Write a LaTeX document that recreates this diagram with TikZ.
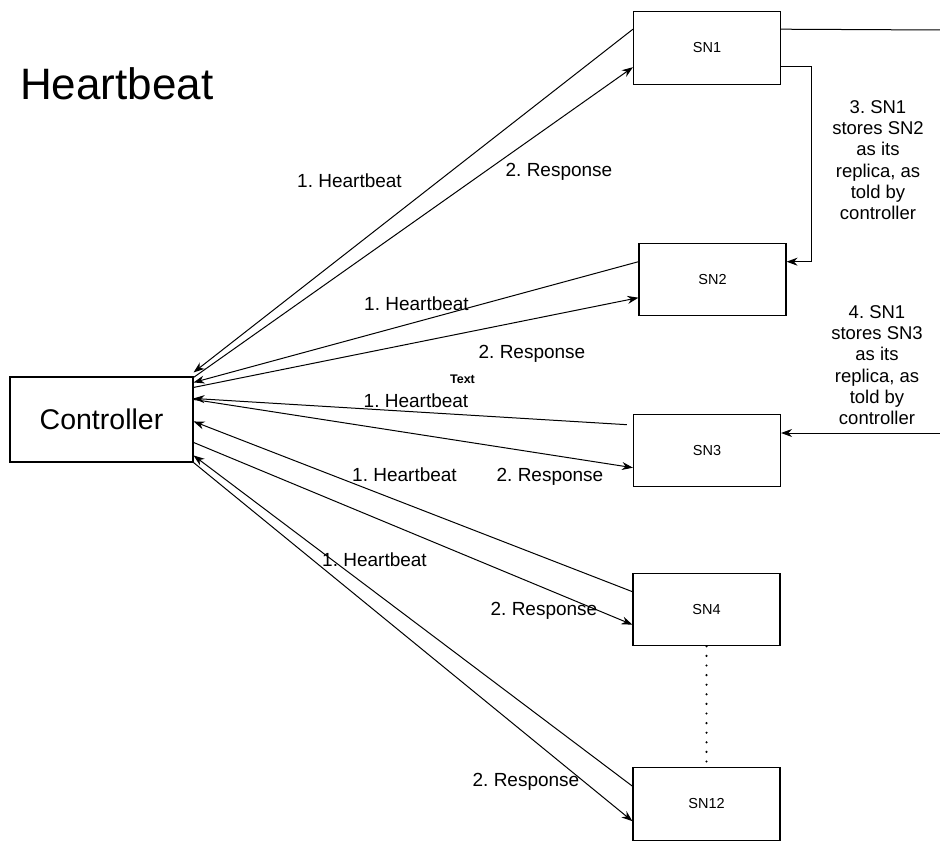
\documentclass[tikz,border=0pt]{standalone}
\usepackage{fontspec}
\setmainfont{Liberation Sans}
\usetikzlibrary{arrows.meta}
\frenchspacing
\begin{document}
\begin{tikzpicture}[x=1pt,y=-1pt,
  box/.style={draw=black,line width=1.1pt,rectangle,inner sep=0pt,font=\fontsize{14.5}{16}\selectfont},
  snbox/.style={box,minimum width=147pt,minimum height=72.5pt},
  conn/.style={draw=black,line width=1pt},
  arr/.style={conn,-{Stealth[length=11pt,width=8pt]}},
  lbl/.style={inner sep=0pt,anchor=base,font=\fontsize{19}{22}\selectfont},
  note/.style={inner sep=0pt,align=center,font=\fontsize{18.5}{21.3}\selectfont}]
\useasboundingbox (0,0) rectangle (940,842);

\node[inner sep=0pt,anchor=base west,font=\fontsize{44}{50}\selectfont] (title) at (20,100) {Heartbeat};

\node[box,minimum width=183pt,minimum height=85pt,font=\fontsize{28.5}{32}\selectfont] (ctrl) at (101.5,419.5) {Controller};

\node[snbox] (sn1) at (707,48) {SN1};
\node[snbox] (sn2) at (712.5,279.5) {SN2};
\node[snbox] (sn3) at (707,450.5) {SN3};
\node[snbox] (sn4) at (706.5,609.5) {SN4};
\node[snbox] (sn12) at (706.5,804) {SN12};

% heartbeats and responses
\draw[arr] ([yshift=-18pt]sn1.north west) -- ([yshift=4pt]ctrl.north east);
\draw[arr] ([yshift=-1pt]ctrl.north east) -- ([yshift=-56pt]sn1.north west);
\draw[arr] ([yshift=-19pt]sn2.north west) -- ([yshift=-6pt]ctrl.north east);
\draw[arr] ([yshift=-11pt]ctrl.north east) -- ([yshift=-55pt]sn2.north west);
\draw[arr] ([xshift=-6pt,yshift=-11pt]sn3.north west) -- ([yshift=-22pt]ctrl.north east);
\draw[arr] ([yshift=-23pt]ctrl.north east) -- ([yshift=-54pt]sn3.north west);
\draw[arr] ([yshift=-19pt]sn4.north west) -- ([yshift=-45pt]ctrl.north east);
\draw[arr] ([yshift=-66pt]ctrl.north east) -- ([yshift=-52pt]sn4.north west);
\draw[arr] ([yshift=-19pt]sn12.north west) -- ([yshift=-79pt]ctrl.north east);
\draw[arr] (ctrl.south east) -- ([yshift=-54pt]sn12.north west);

% right side connectors
\coordinate (e1) at (940,30);
\draw[conn] ([yshift=-18pt]sn1.north east) -- (e1);
\draw[arr] ([yshift=-55pt]sn1.north east) -- ++(30,0) |- ([yshift=-19pt]sn2.north east);
\coordinate (e2) at (940,433);
\draw[arr] (e2) -- (e2 -| sn3.east);

\draw[line width=2.4pt,line cap=round,dash pattern=on 0pt off 9.6pt] (sn4.south) -- (sn12.north);

% labels
\node[lbl] (l1) at (349.5,188) {1. Heartbeat};
\node[lbl] (l2) at (559,176.5) {2. Response};
\node[lbl] (l3) at (416.5,311) {1. Heartbeat};
\node[lbl] (l4) at (532,359) {2. Response};
\node[inner sep=0pt,anchor=base,font=\fontsize{12.5}{14}\selectfont\bfseries] (txt) at (462.5,383) {Text};
\node[lbl] (l5) at (416,407) {1. Heartbeat};
\node[lbl] (l6) at (404.5,481.5) {1. Heartbeat};
\node[lbl] (l7) at (550,481.5) {2. Response};
\node[lbl] (l8) at (374.5,566.5) {1. Heartbeat};
\node[lbl] (l9) at (544,615) {2. Response};
\node[lbl] (l10) at (526,786) {2. Response};

\node[note] (n3) at (878,160) {3. SN1\\stores SN2\\as its\\replica, as\\told by\\controller};
\node[note] (n4) at (877,365) {4. SN1\\stores SN3\\as its\\replica, as\\told by\\controller};
\end{tikzpicture}
\end{document}
